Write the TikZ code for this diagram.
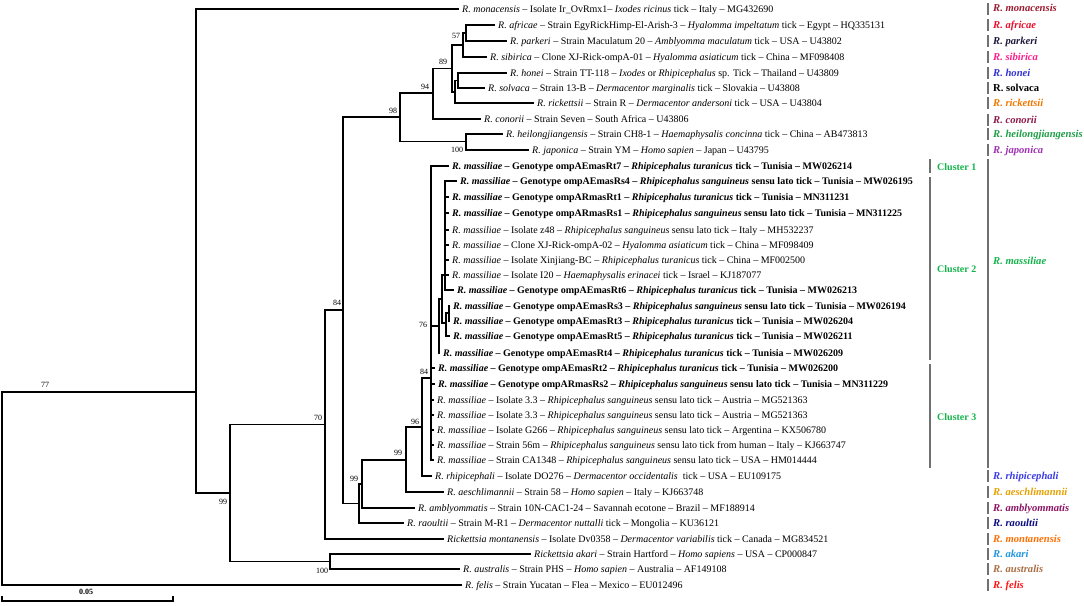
\documentclass[tikz,border=0pt]{standalone}
\usepackage{fontspec}
\setmainfont{Liberation Serif}
\definecolor{cmona}{HTML}{9B1B30}
\definecolor{cafri}{HTML}{E8112D}
\definecolor{cpark}{HTML}{1F1A3D}
\definecolor{csibi}{HTML}{FF1E8C}
\definecolor{chone}{HTML}{3232D2}
\definecolor{crick}{HTML}{F07800}
\definecolor{ccono}{HTML}{8C1A4B}
\definecolor{cheil}{HTML}{1E9E46}
\definecolor{cjapo}{HTML}{A030B4}
\definecolor{cmass}{HTML}{14B44B}
\definecolor{crhip}{HTML}{3C3CE6}
\definecolor{caesc}{HTML}{E6A000}
\definecolor{cambl}{HTML}{8C1464}
\definecolor{craou}{HTML}{0A0A82}
\definecolor{cmont}{HTML}{FF6E00}
\definecolor{cakar}{HTML}{1E96DC}
\definecolor{caust}{HTML}{AA6E46}
\definecolor{cfeli}{HTML}{FF1414}
\definecolor{cgbar}{HTML}{707070}
\newcommand\itx[1]{\textit{#1}}
\begin{document}
\begin{tikzpicture}[x=1pt,y=-1pt,
  br/.style={line width=1.4pt,black},
  lf/.style={anchor=west,inner xsep=3pt,inner ysep=0pt,font=\fontsize{10}{12}\selectfont,text height=6.8pt,text depth=0pt},
  lfb/.style={lf,font=\fontsize{10}{12}\selectfont\bfseries},
  bs/.style={font=\fontsize{8}{9}\selectfont,inner sep=0pt},
  spl/.style={anchor=west,inner xsep=0pt,inner ysep=1.5pt,font=\fontsize{10.6}{12}\selectfont\bfseries\itshape,text height=7.6pt,text depth=1.6pt},
  gbar/.style={line width=2.6pt,cgbar},
  cl/.style={anchor=west,inner sep=0pt,font=\fontsize{10}{12}\selectfont\bfseries,text=cmass}]
\useasboundingbox (0,0) rectangle (1084,605);
% internal nodes
\coordinate (root) at (2,488.5);
\coordinate (n77) at (196,392);
\coordinate (n99) at (230,493);
\coordinate (n70) at (325,424.5);
\coordinate (n100) at (330,561.5);
\coordinate (n84a) at (343,310);
\coordinate (n98) at (400,117);
\coordinate (n94) at (433,93);
\coordinate (nHJ) at (466,141.5);
\coordinate (n89) at (452,68.5);
\coordinate (n57) at (463,45);
\coordinate (nAP) at (466,33);
\coordinate (nHSR) at (455,92);
\coordinate (nHS) at (458,80.5);
\coordinate (n99l) at (359,503.5);
\coordinate (nX) at (362,484);
\coordinate (n99u) at (406,460);
\coordinate (n96) at (422,427);
\coordinate (n84m) at (431,378);
\coordinate (n76) at (439,326);
\coordinate (nD) at (442,299);
\coordinate (nA) at (445,275);
\coordinate (nC) at (446,323);
\coordinate (nB) at (449,313);
% leaves
\node[lf] (l1) at (459,9) {\itx{R. monacensis} -- Isolate Ir\_OvRmx1-- \itx{Ixodes ricinus} tick -- Italy -- MG432690};
\node[lf] (l2) at (495,25) {\itx{R. africae} -- Strain EgyRickHimp-El-Arish-3 -- \itx{Hyalomma impeltatum} tick -- Egypt -- HQ335131};
\node[lf] (l3) at (507,41) {\itx{R. parkeri} -- Strain Maculatum 20 -- \itx{Amblyomma maculatum} tick -- USA -- U43802};
\node[lf] (l4) at (487,57) {\itx{R. sibirica} -- Clone XJ-Rick-ompA-01 -- \itx{Hyalomma asiaticum} tick -- China -- MF098408};
\node[lf] (l5) at (507,73) {\itx{R. honei} -- Strain TT-118 -- \itx{Ixodes} or \itx{Rhipicephalus} sp. Tick -- Thailand -- U43809};
\node[lf] (l6) at (485,88) {\itx{R. solvaca} -- Strain 13-B -- \itx{Dermacentor marginalis} tick -- Slovakia -- U43808};
\node[lf] (l7) at (534,103) {\itx{R. rickettsii} -- Strain R -- \itx{Dermacentor andersoni} tick -- USA -- U43804};
\node[lf] (l8) at (481,119) {\itx{R. conorii} -- Strain Seven -- South Africa -- U43806};
\node[lf] (l9) at (503,134) {\itx{R. heilongjiangensis} -- Strain CH8-1 -- \itx{Haemaphysalis concinna} tick -- China -- AB473813};
\node[lf] (l10) at (529,150) {\itx{R. japonica} -- Strain YM -- \itx{Homo sapien} -- Japan -- U43795};
\node[lfb] (l11) at (449,166) {\itx{R. massiliae} -- Genotype ompAEmasRt7 -- \itx{Rhipicephalus turanicus} tick -- Tunisia -- MW026214};
\node[lfb] (l12) at (457,181) {\itx{R. massiliae} -- Genotype ompAEmasRs4 -- \itx{Rhipicephalus sanguineus} sensu lato tick -- Tunisia -- MW026195};
\node[lfb] (l13) at (449,197) {\itx{R. massiliae} -- Genotype ompARmasRt1 -- \itx{Rhipicephalus turanicus} tick -- Tunisia -- MN311231};
\node[lfb] (l14) at (449,213) {\itx{R. massiliae} -- Genotype ompARmasRs1 -- \itx{Rhipicephalus sanguineus} sensu lato tick -- Tunisia -- MN311225};
\node[lf] (l15) at (449,230) {\itx{R. massiliae} -- Isolate z48 -- \itx{Rhipicephalus sanguineus} sensu lato tick -- Italy -- MH532237};
\node[lf] (l16) at (449,245) {\itx{R. massiliae} -- Clone XJ-Rick-ompA-02 -- \itx{Hyalomma asiaticum} tick -- China -- MF098409};
\node[lf] (l17) at (449,260) {\itx{R. massiliae} -- Isolate Xinjiang-BC -- \itx{Rhipicephalus turanicus} tick -- China -- MF002500};
\node[lf] (l18) at (449,275) {\itx{R. massiliae} -- Isolate I20 -- \itx{Haemaphysalis erinacei} tick -- Israel -- KJ187077};
\node[lfb] (l19) at (454,290) {\itx{R. massiliae} -- Genotype ompAEmasRt6 -- \itx{Rhipicephalus turanicus} tick -- Tunisia -- MW026213};
\node[lfb] (l20) at (450,306) {\itx{R. massiliae} -- Genotype ompAEmasRs3 -- \itx{Rhipicephalus sanguineus} sensu lato tick -- Tunisia -- MW026194};
\node[lfb] (l21) at (450,321) {\itx{R. massiliae} -- Genotype ompAEmasRt3 -- \itx{Rhipicephalus turanicus} tick -- Tunisia -- MW026204};
\node[lfb] (l22) at (450,336) {\itx{R. massiliae} -- Genotype ompAEmasRt5 -- \itx{Rhipicephalus turanicus} tick -- Tunisia -- MW026211};
\node[lfb] (l23) at (440,353) {\itx{R. massiliae} -- Genotype ompAEmasRt4 -- \itx{Rhipicephalus turanicus} tick -- Tunisia -- MW026209};
\node[lfb] (l24) at (435,368) {\itx{R. massiliae} -- Genotype ompAEmasRt2 -- \itx{Rhipicephalus turanicus} tick -- Tunisia -- MW026200};
\node[lfb] (l25) at (435,384) {\itx{R. massiliae} -- Genotype ompARmasRs2 -- \itx{Rhipicephalus sanguineus} sensu lato tick -- Tunisia -- MN311229};
\node[lf] (l26) at (434,400) {\itx{R. massiliae} -- Isolate 3.3 -- \itx{Rhipicephalus sanguineus} sensu lato tick -- Austria -- MG521363};
\node[lf] (l27) at (434,415) {\itx{R. massiliae} -- Isolate 3.3 -- \itx{Rhipicephalus sanguineus} sensu lato tick -- Austria -- MG521363};
\node[lf] (l28) at (434,430) {\itx{R. massiliae} -- Isolate G266 -- \itx{Rhipicephalus sanguineus} sensu lato tick -- Argentina -- KX506780};
\node[lf] (l29) at (434,445) {\itx{R. massiliae} -- Strain 56m -- \itx{Rhipicephalus sanguineus} sensu lato tick from human -- Italy -- KJ663747};
\node[lf] (l30) at (434,460) {\itx{R. massiliae} -- Strain CA1348 -- \itx{Rhipicephalus sanguineus} sensu lato tick -- USA -- HM014444};
\node[lf] (l31) at (432,476) {\itx{R. rhipicephali} -- Isolate DO276 -- \itx{Dermacentor occidentalis}\ \ tick -- USA -- EU109175};
\node[lf] (l32) at (444,492) {\itx{R. aeschlimannii} -- Strain 58 -- \itx{Homo sapien} -- Italy -- KJ663748};
\node[lf] (l33) at (415,508) {\itx{R. amblyommatis} -- Strain 10N-CAC1-24 -- Savannah ecotone -- Brazil -- MF188914};
\node[lf] (l34) at (404,523) {\itx{R. raoultii} -- Strain M-R1 -- \itx{Dermacentor nuttalli} tick -- Mongolia -- KU36121};
\node[lf] (l35) at (444,539) {\itx{Rickettsia montanensis} -- Isolate Dv0358 -- \itx{Dermacentor variabilis} tick -- Canada -- MG834521};
\node[lf] (l36) at (531,554) {\itx{Rickettsia akari} -- Strain Hartford -- \itx{Homo sapiens} -- USA -- CP000847};
\node[lf] (l37) at (460,569) {\itx{R. australis} -- Strain PHS -- \itx{Homo sapien} -- Australia -- AF149108};
\node[lf] (l38) at (462,585) {\itx{R. felis} -- Strain Yucatan -- Flea -- Mexico -- EU012496};
% branches
\draw[br] (root) |- (n77); \draw[br] (root) |- (l38.west);
\draw[br] (n77) |- (l1.west); \draw[br] (n77) |- (n99);
\draw[br] (n99) |- (n70); \draw[br] (n99) |- (n100);
\draw[br] (n100) |- (l36.west); \draw[br] (n100) |- (l37.west);
\draw[br] (n70) |- (n84a); \draw[br] (n70) |- (l35.west);
\draw[br] (n84a) |- (n98); \draw[br] (n84a) |- (n99l);
\draw[br] (n98) |- (n94); \draw[br] (n98) |- (nHJ);
\draw[br] (nHJ) |- (l9.west); \draw[br] (nHJ) |- (l10.west);
\draw[br] (n94) |- (n89); \draw[br] (n94) |- (l8.west);
\draw[br] (n89) |- (n57); \draw[br] (n89) |- (nHSR);
\draw[br] (n57) |- (nAP); \draw[br] (n57) |- (l4.west);
\draw[br] (nAP) |- (l2.west); \draw[br] (nAP) |- (l3.west);
\draw[br] (nHSR) |- (nHS); \draw[br] (nHSR) |- (l7.west);
\draw[br] (nHS) |- (l5.west); \draw[br] (nHS) |- (l6.west);
\draw[br] (n99l) |- (nX); \draw[br] (n99l) |- (l34.west);
\draw[br] (nX) |- (n99u); \draw[br] (nX) |- (l33.west);
\draw[br] (n99u) |- (n96); \draw[br] (n99u) |- (l32.west);
\draw[br] (n96) |- (n84m); \draw[br] (n96) |- (l31.west);
\draw[br] (n84m) |- (l11.west); \draw[br] (n84m) |- (n76);
\foreach \k in {24,...,30} {\draw[br] (n84m) |- (l\k.west);}
\draw[br] (n76) |- (nD); \draw[br] (n76) |- (l23.west);
\draw[br] (nD) |- (nA); \draw[br] (nD) |- (nC);
\foreach \k in {12,...,19} {\draw[br] (nA) |- (l\k.west);}
\draw[br] (nC) |- (nB); \draw[br] (nC) |- (l22.west);
\draw[br] (nB) |- (l20.west); \draw[br] (nB) |- (l21.west);
% bootstrap values
\node[bs] (b77) at (45,385) {77};
\node[bs] (b57) at (456,36) {57};
\node[bs] (b89) at (443,62) {89};
\node[bs] (b94) at (425,87) {94};
\node[bs] (b98) at (393,111) {98};
\node[bs] (b100a) at (457,150) {100};
\node[bs] (b84a) at (337,303) {84};
\node[bs] (b76) at (423,325) {76};
\node[bs] (b84m) at (424,372) {84};
\node[bs] (b70) at (318,418) {70};
\node[bs] (b96) at (415,422) {96};
\node[bs] (b99u) at (398,453) {99};
\node[bs] (b99l) at (354,479) {99};
\node[bs] (b99) at (223,502) {99};
\node[bs] (b100b) at (322,571) {100};
% scale bar
\coordinate (sbl) at (2,601); \coordinate (sbr) at (173,601);
\draw[line width=1.2pt] ([yshift=5pt]sbl) -- (sbl) -- (sbr) -- ([yshift=5pt]sbr);
\node[bs,font=\fontsize{8}{9}\selectfont\bfseries] (sbt) at (86,592) {0.05};
% clusters
\coordinate (c1a) at (930,159); \coordinate (c1b) at (930,173);
\coordinate (c2a) at (930,177); \coordinate (c2b) at (930,360);
\coordinate (c3a) at (930,364); \coordinate (c3b) at (930,468);
\draw[gbar] (c1a) -- (c1b); \draw[gbar] (c2a) -- (c2b); \draw[gbar] (c3a) -- (c3b);
\node[cl] (k1) at (937,167) {Cluster 1};
\node[cl] (k2) at (937,269) {Cluster 2};
\node[cl] (k3) at (937,417) {Cluster 3};
% species
\coordinate (ma) at (988,159); \coordinate (mb) at (988,468);
\draw[gbar] (ma) -- (mb);
\node[spl,text=cmass] (smas) at (993,261) {R. massiliae};
\foreach \nm/\yy/\col/\txt in {s1/9/cmona/R. monacensis, s2/25/cafri/R. africae, s3/41/cpark/R. parkeri, s4/57/csibi/R. sibirica, s5/73/chone/R. honei, s7/103/crick/R. rickettsii, s8/120/ccono/R. conorii, s9/134/cheil/R. heilongjiangensis, s10/150/cjapo/R. japonica, s31/476/crhip/R. rhipicephali, s32/492/caesc/R. aeschlimannii, s33/508/cambl/R. amblyommatis, s34/523/craou/R. raoultii, s35/539/cmont/R. montanensis, s36/554/cakar/R. akari, s37/569/caust/R. australis, s38/585/cfeli/R. felis}{
  \node[spl,text=\col] (\nm) at (993,\yy) {\txt};
  \draw[gbar] ([xshift=-5pt]\nm.north west) -- ([xshift=-5pt]\nm.south west);
}
\node[spl,font=\fontsize{10.6}{12}\selectfont\bfseries] (s6) at (993,88) {R. solvaca};
\draw[gbar] ([xshift=-5pt]s6.north west) -- ([xshift=-5pt]s6.south west);
\end{tikzpicture}
\end{document}
